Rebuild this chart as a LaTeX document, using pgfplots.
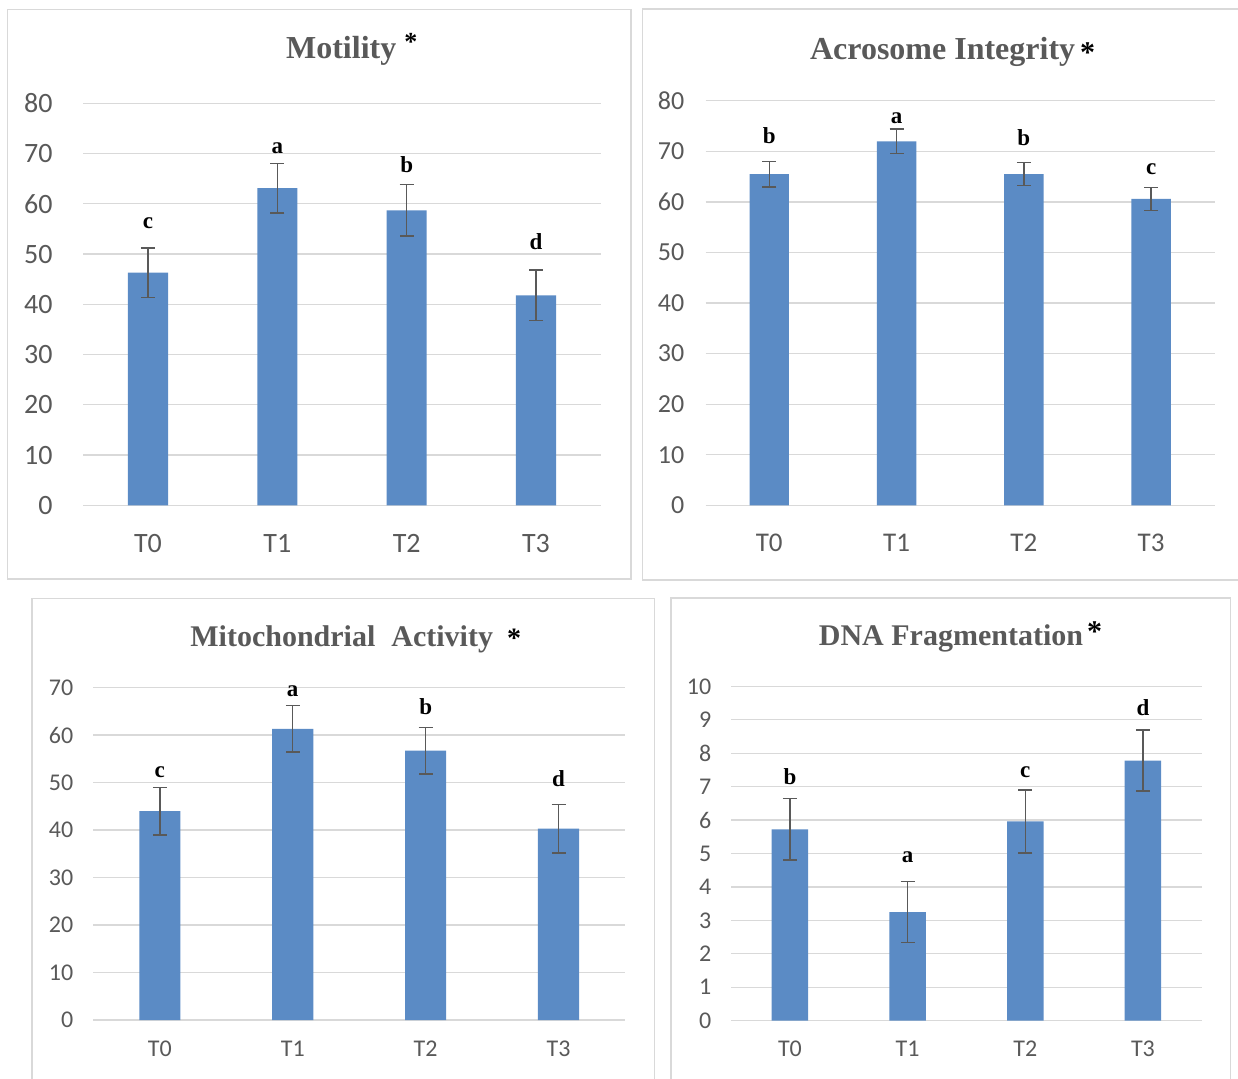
\documentclass[border=0pt]{standalone}
\usepackage{pgfplots}
\pgfplotsset{compat=1.18}
\usepackage{fontspec}
\setmainfont{Liberation Serif}
\newfontfamily\carlito{Carlito}
\definecolor{barblue}{HTML}{5B8BC5}
\definecolor{gridgray}{HTML}{D9D9D9}
\definecolor{boxgray}{HTML}{D9D9D9}
\definecolor{txtgray}{HTML}{595959}
\definecolor{errgray}{HTML}{595959}

\pgfplotsset{
  panel/.style={
    scale only axis,
    anchor=south west,
    xmin=-0.5, xmax=3.5, ymin=0,
    xtick={0,1,2,3}, xticklabels={T0,T1,T2,T3},
    ymajorgrids, major grid style={gridgray, line width=0.65pt},
    axis line style={draw=none},
    major tick length=0pt,
    enlargelimits=false,
    clip=false,
    /pgf/number format/assume math mode=true,
    ticklabel style={text=txtgray, inner sep=0pt},
    yticklabel style={anchor=east},
    xticklabel style={anchor=center},
  },
  bars/.style={ybar, bar width=0.31, fill=barblue, draw=none,
    error bars/y dir=both, error bars/y explicit,
    error bars/error bar style={errgray, line width=0.75pt},
    error bars/error mark options={errgray, line width=0.75pt, mark size=3.5pt, rotate=90}},
  letters/.style={draw=none, nodes near coords, point meta=explicit symbolic,
    every node near coord/.append style={anchor=base, font=\fontsize{11.5}{11.5}\selectfont\bfseries, text=black, inner sep=0pt}},
}

\begin{document}
\begin{tikzpicture}
\path[use as bounding box] (0pt,0pt) rectangle (619pt,539pt);
% panel frames
\draw[boxgray, line width=0.75pt] (3.65pt,249.5pt) rectangle (315.5pt,534.35pt);
\draw[boxgray, line width=0.75pt] (321.15pt,249pt) rectangle (625pt,534.5pt);
\draw[boxgray, line width=0.75pt] (16pt,-5pt) rectangle (327.25pt,239.85pt);
\draw[boxgray, line width=0.75pt] (335.5pt,-5pt) rectangle (615.35pt,240.1pt);

% titles
\node[anchor=base west, inner sep=0pt, text=txtgray, font=\fontsize{16}{16}\selectfont\bfseries] at (142.85pt,509.5pt)
  {Motility\hspace{4pt}\textcolor{black}{\fontsize{13}{13}\selectfont\raisebox{4pt}{*}}};
\node[anchor=base west, inner sep=0pt, text=txtgray, font=\fontsize{16}{16}\selectfont\bfseries] at (404.85pt,509.3pt)
  {Acrosome Integrity\hspace{2.5pt}\textcolor{black}{\fontsize{15}{15}\selectfont\raisebox{-1.5pt}{*}}};
\node[anchor=base west, inner sep=0pt, text=txtgray, font=\fontsize{15}{15}\selectfont\bfseries] at (95pt,215.65pt)
  {Mitochondrial\hspace{8pt}Activity\hspace{7pt}\textcolor{black}{\fontsize{14}{14}\selectfont\raisebox{-0.5pt}{*}}};
\node[anchor=base west, inner sep=0pt, text=txtgray, font=\fontsize{15}{15}\selectfont\bfseries] at (409.25pt,216pt)
  {DNA Fragmentation\hspace{2pt}\textcolor{black}{\fontsize{15}{15}\selectfont\raisebox{2pt}{*}}};

% Motility
\begin{axis}[panel, at={(41.65pt,286.35pt)}, width=258.7pt, height=201pt,
  ymax=80, ytick={0,10,...,80},
  yticklabel style={font=\carlito\fontsize{14}{14}\selectfont, xshift=-15.15pt},
  xticklabel style={font=\carlito\fontsize{14}{14}\selectfont, yshift=-19.1pt}]
\addplot[bars] coordinates {(0,46.3) +- (0,4.9) (1,63.1) +- (0,4.9) (2,58.7) +- (0,5.1) (3,41.8) +- (0,5.0)};
\addplot[letters] coordinates {(0,55.0)[c] (1,70.1)[a] (2,66.2)[b] (3,51.0)[d]};
\end{axis}

% Acrosome Integrity
\begin{axis}[panel, at={(352.8pt,286.35pt)}, width=254.6pt, height=202.25pt,
  ymax=80, ytick={0,10,...,80},
  yticklabel style={font=\carlito\fontsize{13}{13}\selectfont, xshift=-10.5pt},
  xticklabel style={font=\carlito\fontsize{13.5}{13.5}\selectfont, yshift=-18.7pt}]
\addplot[bars] coordinates {(0,65.5) +- (0,2.5) (1,72.0) +- (0,2.4) (2,65.5) +- (0,2.3) (3,60.6) +- (0,2.3)};
\addplot[letters] coordinates {(0,71.5)[b] (1,75.5)[a] (2,71.1)[b] (3,65.5)[c]};
\end{axis}

% Mitochondrial Activity
\begin{axis}[panel, at={(46.7pt,29pt)}, width=265.8pt, height=166.25pt,
  ymax=70, ytick={0,10,...,70},
  yticklabel style={font=\carlito\fontsize{12}{12}\selectfont, xshift=-9.85pt},
  xticklabel style={font=\carlito\fontsize{12}{12}\selectfont, yshift=-14.5pt}]
\addplot[bars] coordinates {(0,44.0) +- (0,5.0) (1,61.3) +- (0,4.9) (2,56.7) +- (0,4.9) (3,40.3) +- (0,5.1)};
\addplot[letters] coordinates {(0,51.1)[c] (1,68.1)[a] (2,64.4)[b] (3,49.1)[d]};
\end{axis}

% DNA Fragmentation
\begin{axis}[panel, at={(365.55pt,28.65pt)}, width=235.35pt, height=167.2pt,
  ymax=10, ytick={0,1,...,10},
  yticklabel style={font=\carlito\fontsize{12}{12}\selectfont, xshift=-9.75pt},
  xticklabel style={font=\carlito\fontsize{12}{12}\selectfont, yshift=-14.2pt}]
\addplot[bars] coordinates {(0,5.72) +- (0,0.92) (1,3.25) +- (0,0.91) (2,5.96) +- (0,0.94) (3,7.78) +- (0,0.91)};
\addplot[letters] coordinates {(0,7.05)[b] (1,4.73)[a] (2,7.27)[c] (3,9.14)[d]};
\end{axis}
\end{tikzpicture}
\end{document}
